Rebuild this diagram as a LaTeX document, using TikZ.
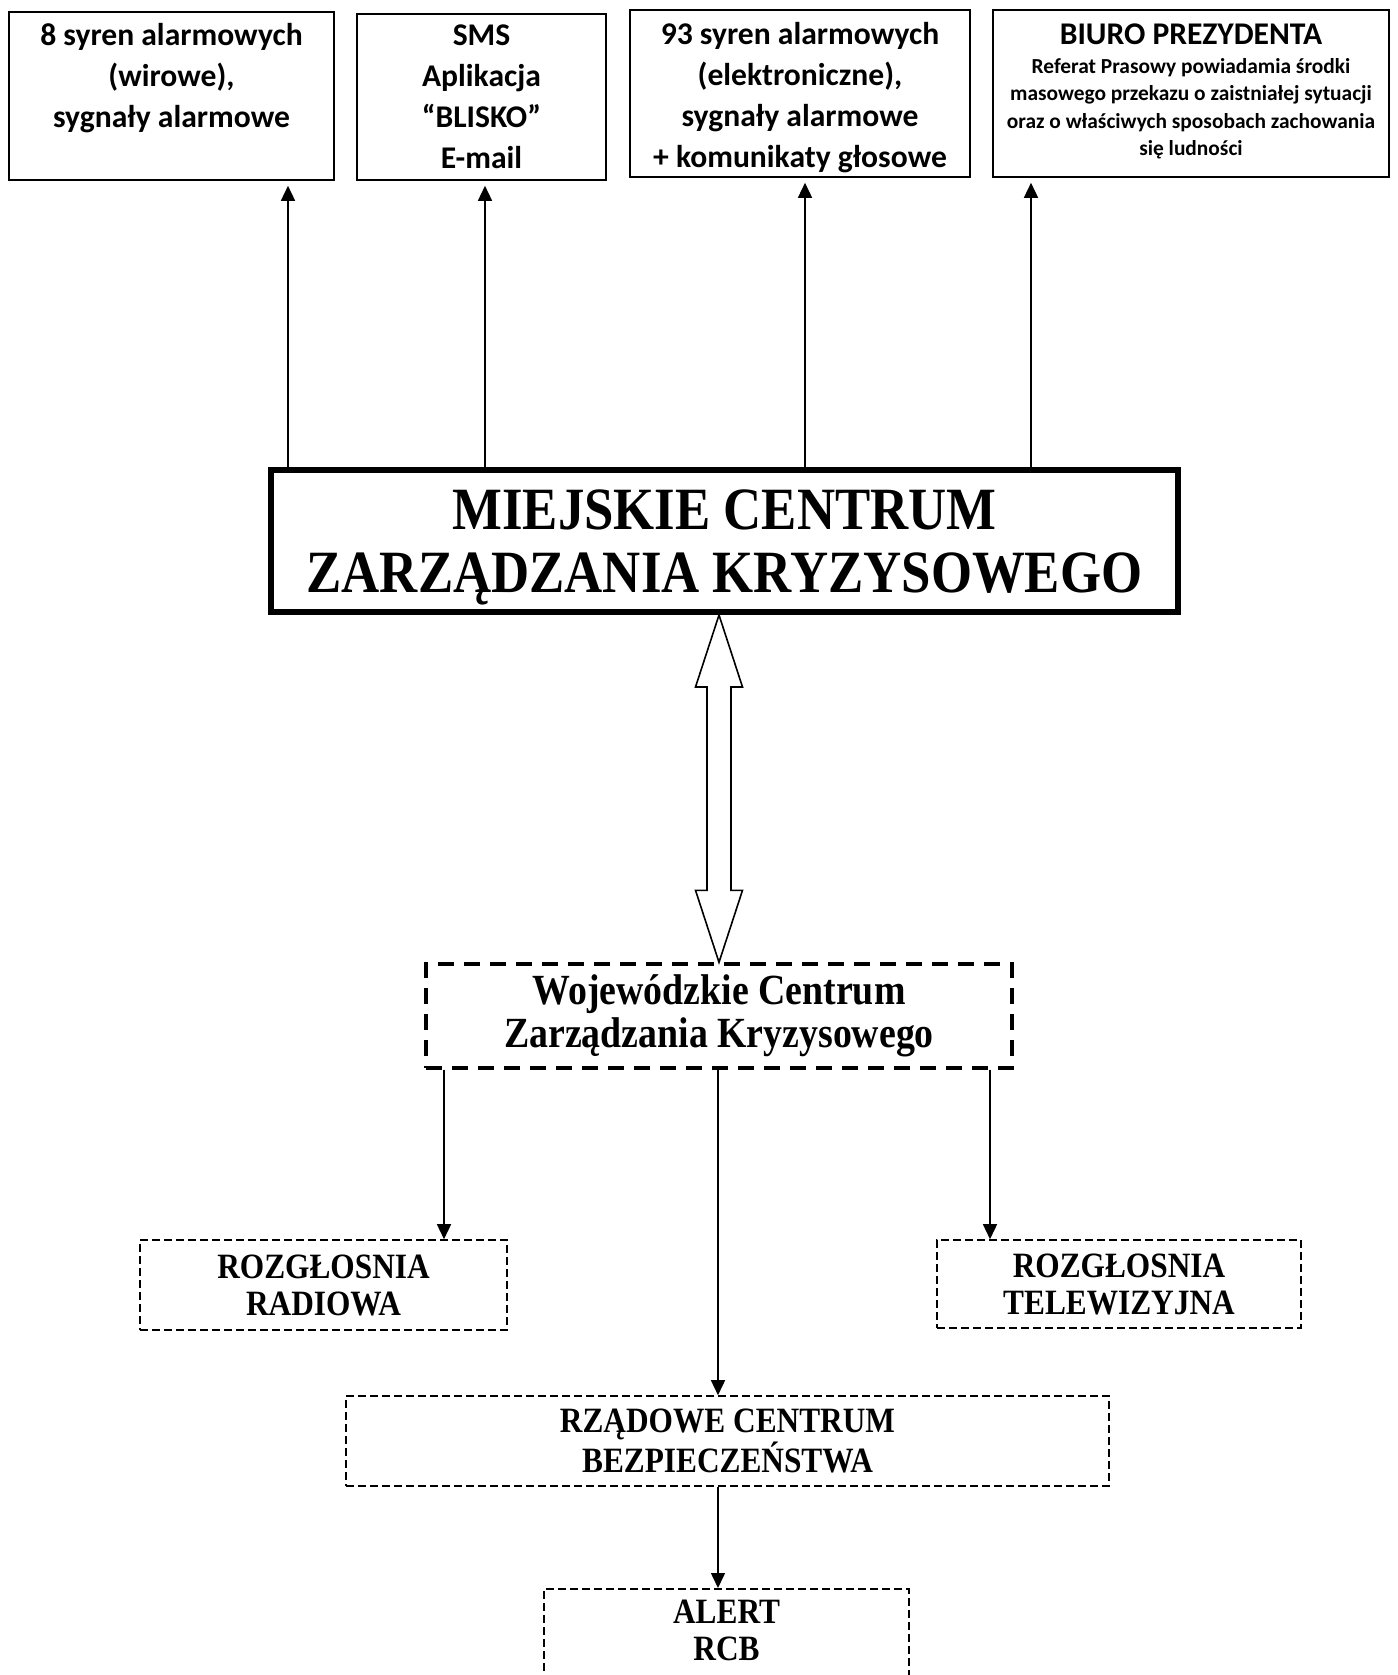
\documentclass[tikz,border=0pt]{standalone}
\usepackage{fontspec}
\usetikzlibrary{arrows.meta,calc}
\newfontfamily\carlito{Carlito}
\newfontfamily\tnr[FakeStretch=0.88]{Liberation Serif}
\begin{document}
\begin{tikzpicture}[x=0.5pt,y=-0.5pt,
  topbox/.style={draw, line width=0.9pt, anchor=north, inner sep=0pt, align=center,
    font=\carlito\bfseries\fontsize{15.8}{20.5}\selectfont},
  lowbox/.style={draw, line width=0.8pt, dash pattern=on 4pt off 2pt, inner sep=0pt, align=center,
    font=\tnr\bfseries\fontsize{17.8}{18.5}\selectfont},
  arr/.style={line width=0.75pt, -{Triangle[length=7.5pt,width=7pt]}},
  dblarrow/.style={draw, line width=0.8pt, fill=white}
]
\useasboundingbox (0,0) rectangle (1397,1675);
\clip (0,0) rectangle (1397,1675);

% top boxes
\node[topbox, minimum width=162.5pt, text height=57.75pt, text depth=26.25pt] (b1) at (171.5,11)
  {8 syren alarmowych\\(wirowe),\\sygnały alarmowe};
\node[topbox, minimum width=124.5pt, text height=77.25pt, text depth=5.75pt] (b2) at (481.5,13)
  {SMS\\Aplikacja\\“BLISKO”\\E-mail};
\node[topbox, minimum width=170pt, text height=78.75pt, text depth=4.75pt] (b3) at (800,9)
  {93 syren alarmowych\\(elektroniczne),\\sygnały alarmowe\\+ komunikaty głosowe};
\node[topbox, minimum width=198pt, text height=72.7pt, text depth=10.8pt,
  font=\carlito\bfseries\fontsize{10.7}{13.65}\selectfont] (b4) at (1191,9)
  {{\fontsize{15.8}{20.5}\selectfont BIURO PREZYDENTA}\\[0.95pt]Referat Prasowy powiadamia środki\\masowego przekazu o zaistniałej sytuacji\\oraz o właściwych sposobach zachowania\\się ludności};

% main box
\node[draw, line width=3.2pt, minimum width=453.3pt, minimum height=70.8pt, inner sep=0pt,
  align=center, text depth=0pt, font=\tnr\bfseries\fontsize{30}{31.5}\selectfont] (mczk) at (724.5,541)
  {MIEJSKIE CENTRUM\\ZARZĄDZANIA KRYZYSOWEGO};

% arrows up
\coordinate (x1) at (288,0);
\coordinate (x2) at (485,0);
\coordinate (x3) at (805,0);
\coordinate (x4) at (1031,0);
\draw[arr] (mczk.north -| x1) -- ([yshift=-2.5pt]b1.south -| x1);
\draw[arr] (mczk.north -| x2) -- ([yshift=-2.5pt]b2.south -| x2);
\draw[arr] (mczk.north -| x3) -- ([yshift=-2.5pt]b3.south -| x3);
\draw[arr] (mczk.north -| x4) -- ([yshift=-2.5pt]b4.south -| x4);

% voivodeship box
\node[draw, line width=1.7pt, dash pattern=on 8pt off 5pt, minimum width=293pt, minimum height=52pt,
  inner sep=0pt, align=center, font=\tnr\bfseries\fontsize{21.5}{21.5}\selectfont] (wczk) at (719,1016)
  {Wojewódzkie Centrum\\Zarządzania Kryzysowego};

% double arrow
\coordinate (dx) at (719,0);
\coordinate (da) at (mczk.south -| dx);
\coordinate (db) at (wczk.north -| dx);
\draw[dblarrow] (da) -- ($(da)+(23.5,72)$) -- ($(da)+(12,72)$) -- ($(db)+(12,-72)$)
  -- ($(db)+(23.5,-72)$) -- (db) -- ($(db)+(-23.5,-72)$) -- ($(db)+(-12,-72)$)
  -- ($(da)+(-12,72)$) -- ($(da)+(-23.5,72)$) -- cycle;

% lower boxes
\node[lowbox, minimum width=183.5pt, minimum height=45pt] (radio) at (323.5,1285)
  {ROZGŁOSNIA\\RADIOWA};
\node[lowbox, minimum width=182pt, minimum height=44pt] (tv) at (1119,1284)
  {ROZGŁOSNIA\\TELEWIZYJNA};
\node[lowbox, minimum width=381.5pt, minimum height=45pt] (rcb) at (727.5,1441)
  {RZĄDOWE CENTRUM\\BEZPIECZEŃSTWA};
\node[lowbox, anchor=north, minimum width=182.5pt, text height=35.9pt, text depth=60pt] (alert) at (726.5,1588)
  {ALERT\\RCB};

\coordinate (x5) at (444,0);
\coordinate (x6) at (718,0);
\coordinate (x7) at (990,0);
\draw[arr] (wczk.south -| x5) -- (radio.north -| x5);
\draw[arr] (wczk.south -| x6) -- (rcb.north -| x6);
\draw[arr] (wczk.south -| x7) -- (tv.north -| x7);
\draw[arr] (rcb.south -| x6) -- (alert.north -| x6);
\end{tikzpicture}
\end{document}
